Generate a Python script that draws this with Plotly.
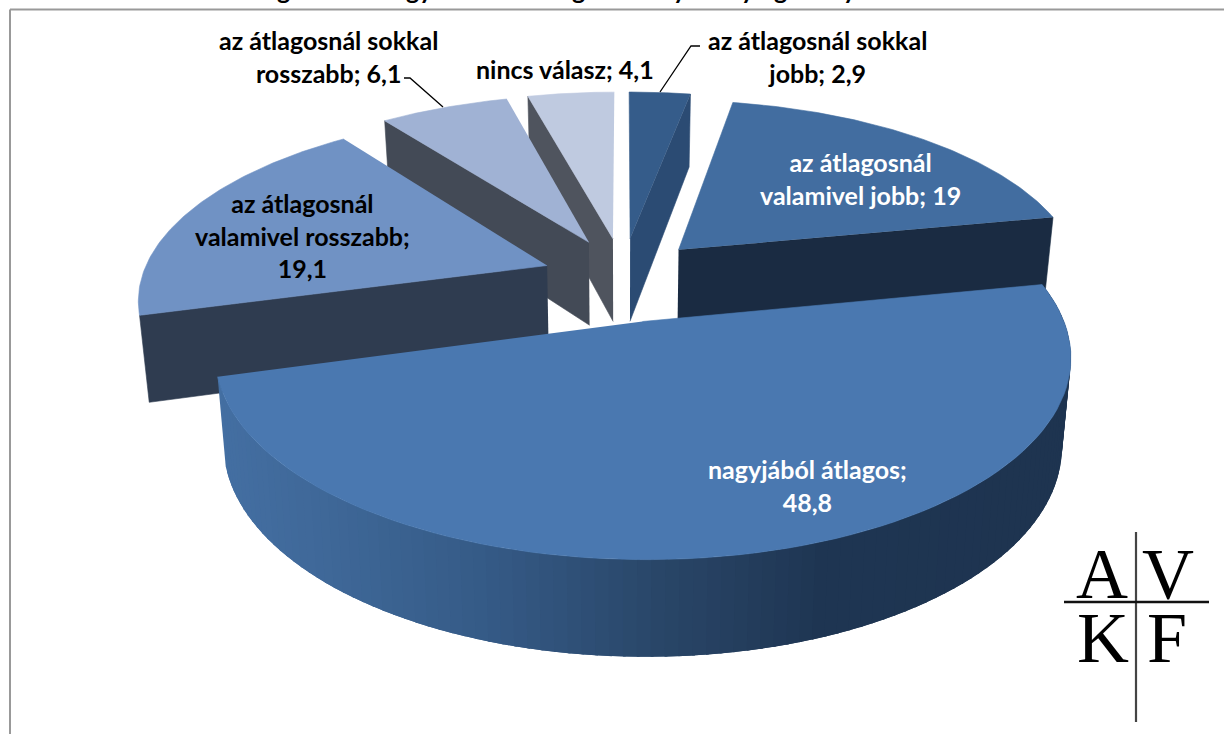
import numpy as np
import plotly.graph_objects as go

# ---- data (clockwise from 12 o'clock) ----
categories = ["az átlagosnál sokkal jobb", "az átlagosnál valamivel jobb", "nagyjából átlagos",
              "az átlagosnál valamivel rosszabb", "az átlagosnál sokkal rosszabb", "nincs válasz"]
values = [2.9, 19, 48.8, 19.1, 6.1, 4.1]
top_colors = ["#355c8a", "#426da0", "#4a78b0", "#7092c4", "#a0b2d4", "#bfcae0"]
wall_colors = ["#2b4b73", "#1a2b42", None, "#2f3c50", "#434a56", "#4f545e"]
# which edge of each wedge shows a flat side wall: "end" = clockwise edge, "start" = counter-clockwise edge
wall_edges = ["end", "end", None, "start", "start", "start"]
draw_order = [5, 4, 0, 3, 1, 2]
gradient_px = [222, 330, 495, 660, 824, 1067]
gradient_col = ["#446fa2", "#3f6898", "#355a86", "#2a4769", "#1f3653", "#1e3450"]

label_text = ["az átlagosnál sokkal<br>jobb; 2,9", "az átlagosnál<br>valamivel jobb; 19", "nagyjából átlagos;<br>48,8",
              "az átlagosnál<br>valamivel rosszabb;<br>19,1", "az átlagosnál sokkal<br>rosszabb; 6,1", "nincs válasz; 4,1"]
label_x = [817, 860, 807, 302, 328, 565]
label_y = [56, 178, 485, 235, 56, 69]
label_color = ["black", "white", "white", "black", "black", "black"]

title_bits = ["g", "gy", "g", "y", "y", "g", "y"]
title_bit_x = [283, 419, 578, 680, 748, 780, 850]

logo_letters = ["A", "V", "K", "F"]
logo_x = [1102, 1168, 1103, 1167]
logo_y = [574, 574, 638, 638]

# ---- projection of the tilted pie ----
CX, CY, A, B, K, EX, EY = 623, 279, 406, 183, 0.165, 0.2, 0.23

def project(X, Y, Z=0.0):
    w = 1 / (1 + K * Y)
    sx = CX + A * X * w * (1 - 0.02 * Z)
    sy = CY - B * Y * w + Z * (85 - 10 * Y)
    return sx, sy

def poly(xs, ys, color, lw=0.6):
    return go.Scatter(x=list(xs), y=list(ys), mode="lines", fill="toself", fillcolor=color,
                      line=dict(color=color, width=lw), hoverinfo="skip", showlegend=False)

def hex2rgb(h):
    return np.array([int(h[i:i + 2], 16) for i in (1, 3, 5)], float)

stops_rgb = np.array([hex2rgb(c) for c in gradient_col])

def grad_color(px):
    c = [np.interp(px, gradient_px, stops_rgb[:, k]) for k in range(3)]
    return "rgb(%d,%d,%d)" % tuple(c)

edges = np.concatenate([[0], np.cumsum(values)]) / sum(values) * 2 * np.pi
fig = go.Figure()

for i in draw_order:
    a0, a1 = edges[i], edges[i + 1]
    mid = (a0 + a1) / 2
    ox, oy = EX * np.sin(mid), EY * np.cos(mid)
    th = np.linspace(a0, a1, 90)
    rimX, rimY = ox + np.sin(th), oy + np.cos(th)

    if wall_edges[i]:
        e = a1 if wall_edges[i] == "end" else a0
        eX, eY = ox + np.sin(e), oy + np.cos(e)
        pts = [project(ox, oy, 0), project(eX, eY, 0), project(eX, eY, 1), project(ox, oy, 1)]
        fig.add_trace(poly([p[0] for p in pts], [p[1] for p in pts], wall_colors[i]))
    else:
        # curved outer wall: overlapping narrow strips shaded by screen position
        n = 110
        step = (a1 - a0) / n
        for j in range(n):
            t0 = a1 - step * j
            tt = np.linspace(t0, max(t0 - 2.2 * step, a0), 4)
            X, Y = ox + np.sin(tt), oy + np.cos(tt)
            up = project(X, Y, 0)
            lo = project(X, Y, 1)
            fig.add_trace(poly(list(up[0]) + list(lo[0][::-1]), list(up[1]) + list(lo[1][::-1]),
                               grad_color(float(up[0][1])), lw=0))

    tx, ty = project(rimX, rimY, 0)
    ax, ay = project(ox, oy, 0)
    fig.add_trace(poly([ax] + list(tx), [ay] + list(ty), top_colors[i]))

# leader lines
fig.add_trace(go.Scatter(x=[404, 410, 443], y=[78, 78, 107], mode="lines", line=dict(color="black", width=1.3),
                         hoverinfo="skip", showlegend=False))
fig.add_trace(go.Scatter(x=[700, 691, 660], y=[46, 46, 92], mode="lines", line=dict(color="black", width=1.3),
                         hoverinfo="skip", showlegend=False))

ann = []
for t, x, y, c in zip(label_text, label_x, label_y, label_color):
    ann.append(dict(x=x, y=y, text=t, showarrow=False, xanchor="center", yanchor="middle", align="center",
                    font=dict(family="Lato", size=25, color=c, weight=700)))
for t, x in zip(title_bits, title_bit_x):
    ann.append(dict(x=x / 1224, y=1 + 11 / 734, xref="paper", yref="paper", text=t, showarrow=False,
                    xanchor="center", yanchor="middle",
                    font=dict(family="Lato", size=25, color="black", weight=700)))
for t, x, y in zip(logo_letters, logo_x, logo_y):
    ann.append(dict(x=x, y=y, text=t, showarrow=False, xanchor="center", yanchor="middle",
                    font=dict(family="Liberation Serif", size=72, color="#000000")))

shapes = [
    dict(type="line", x0=10, x1=10, y0=9.5, y1=734, line=dict(color="#999999", width=2)),
    dict(type="line", x0=10, x1=1224, y0=9.5, y1=9.5, line=dict(color="#999999", width=2)),
    dict(type="line", x0=1136, x1=1136, y0=532, y1=722, line=dict(color="#444444", width=2.2)),
    dict(type="line", x0=1064, x1=1209, y0=602, y1=602, line=dict(color="#111111", width=2.4)),
]

fig.update_layout(width=1224, height=734, margin=dict(l=0, r=0, t=0, b=0), paper_bgcolor="white",
                  plot_bgcolor="white", showlegend=False, annotations=ann, shapes=shapes,
                  xaxis=dict(range=[0, 1224], visible=False, fixedrange=True),
                  yaxis=dict(range=[734, 0], visible=False, fixedrange=True))
fig.write_html("out.html", config=dict(displayModeBar=False),
               post_script="document.body.style.margin='0';document.body.style.overflow='hidden';")
